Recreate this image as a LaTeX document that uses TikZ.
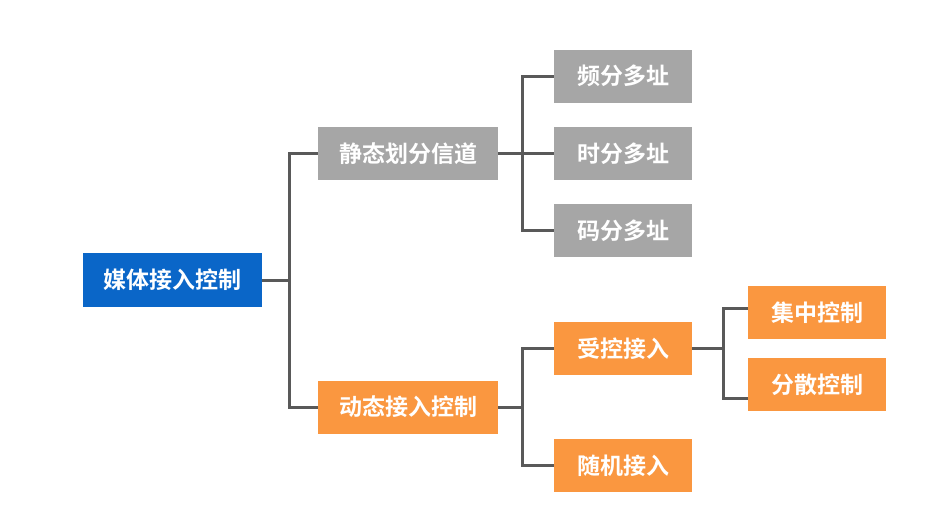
\documentclass[tikz,border=0pt]{standalone}
\usepackage{fontspec}
\newfontfamily\cjk{Noto Sans CJK SC}[BoldFont={Noto Sans CJK SC Bold}]
\definecolor{rootblue}{HTML}{0A66C8}
\definecolor{boxgray}{HTML}{A6A6A6}
\definecolor{boxorange}{HTML}{FA9740}
\definecolor{linegray}{HTML}{595959}
\begin{document}
\begin{tikzpicture}[x=1pt,y=-1pt,
  box/.style={inner sep=0pt, text=white, font=\cjk\bfseries\fontsize{23}{26}\selectfont},
  rootbox/.style={box, fill=rootblue, minimum width=179pt, minimum height=54pt},
  midbox/.style={box, minimum width=180pt, minimum height=53pt},
  leafbox/.style={box, minimum width=138pt, minimum height=53pt},
  grayfill/.style={fill=boxgray},
  orangefill/.style={fill=boxorange},
  link/.style={draw=linegray, line width=3pt, line join=miter}]
\useasboundingbox (0,0) rectangle (931,530);
\node[rootbox] (root) at (172.5,280) {媒体接入控制};
\node[midbox,grayfill] (static) at (408,153.5) {静态划分信道};
\node[midbox,orangefill] (dyn) at (408,407) {动态接入控制};
\node[leafbox,grayfill] (fdma) at (623,76) {频分多址};
\node[leafbox,grayfill] (tdma) at (623,153.5) {时分多址};
\node[leafbox,grayfill] (cdma) at (623,230.5) {码分多址};
\node[leafbox,orangefill] (ctrl) at (623,348.5) {受控接入};
\node[leafbox,orangefill] (rand) at (623,465.5) {随机接入};
\node[leafbox,orangefill] (cent) at (817,312.5) {集中控制};
\node[leafbox,orangefill] (dist) at (817,384.5) {分散控制};
% root branches
\coordinate (t1) at (289,280);
\draw[link] (root.east) -- (t1);
\draw[link] (static.west) -| (t1) |- (dyn.west);
% static branches
\coordinate (t2) at (522,153.5);
\draw[link] (static.east) -- (tdma.west);
\draw[link] (fdma.west) -| (t2) |- (cdma.west);
% dynamic branches
\coordinate (t3) at (522,407);
\draw[link] (dyn.east) -- (t3);
\draw[link] (ctrl.west) -| (t3) |- (rand.west);
% controlled access branches
\coordinate (t4) at (723,348.5);
\draw[link] (ctrl.east) -- (t4);
\draw[link] ([yshift=4.5pt]cent.west) -| (t4) |- ([yshift=-13.5pt]dist.west);
\end{tikzpicture}
\end{document}
